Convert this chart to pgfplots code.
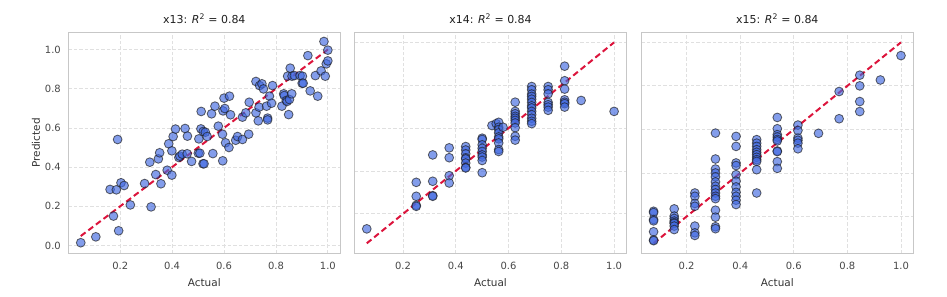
\documentclass[border=0pt]{standalone}
\usepackage{fontspec}
\setmainfont{DejaVu Sans}
\usepackage{pgfplots}
\pgfplotsset{compat=1.18}
\usepackage{pgfplotstable}
\definecolor{royal}{RGB}{65,105,225}
\definecolor{crim}{RGB}{220,20,60}

\pgfplotstableread{
x y
0.048 0.014
0.106 0.044
0.190 0.541
0.174 0.150
0.194 0.075
0.161 0.286
0.185 0.284
0.203 0.320
0.215 0.306
0.239 0.207
0.294 0.316
0.319 0.197
0.314 0.425
0.337 0.362
0.347 0.442
0.352 0.473
0.357 0.315
0.381 0.384
0.399 0.359
0.387 0.519
0.399 0.483
0.404 0.556
0.413 0.594
0.426 0.449
0.430 0.456
0.439 0.466
0.450 0.597
0.459 0.558
0.458 0.468
0.475 0.429
0.501 0.471
0.507 0.471
0.503 0.544
0.511 0.595
0.512 0.684
0.519 0.417
0.523 0.417
0.520 0.582
0.528 0.578
0.535 0.556
0.552 0.672
0.557 0.469
0.565 0.711
0.578 0.609
0.594 0.568
0.595 0.432
0.596 0.687
0.600 0.752
0.603 0.699
0.606 0.524
0.619 0.500
0.621 0.762
0.625 0.667
0.645 0.537
0.652 0.556
0.671 0.541
0.671 0.655
0.684 0.677
0.695 0.568
0.697 0.731
0.723 0.837
0.723 0.677
0.732 0.636
0.735 0.706
0.737 0.816
0.746 0.825
0.752 0.799
0.764 0.711
0.768 0.650
0.768 0.641
0.775 0.762
0.783 0.726
0.787 0.816
0.823 0.711
0.830 0.774
0.832 0.765
0.840 0.740
0.843 0.735
0.849 0.668
0.852 0.745
0.855 0.905
0.861 0.774
0.845 0.864
0.862 0.864
0.871 0.867
0.893 0.867
0.902 0.864
0.901 0.828
0.905 0.828
0.923 0.969
0.932 0.789
0.952 0.867
0.961 0.762
0.974 0.891
0.985 1.041
0.990 0.864
0.994 0.927
1.000 0.942
1.000 0.997
}\dataA

\pgfplotstableread{
x y
0.0625 0.130
0.25 0.347
0.25 0.282
0.25 0.240
0.25 0.235
0.3125 0.475
0.3125 0.352
0.3125 0.285
0.3125 0.282
0.375 0.508
0.375 0.462
0.375 0.378
0.375 0.344
0.4375 0.514
0.4375 0.498
0.4375 0.480
0.4375 0.461
0.4375 0.456
0.4375 0.437
0.4375 0.417
0.4375 0.414
0.5 0.553
0.5 0.547
0.5 0.522
0.5 0.506
0.5 0.491
0.5 0.475
0.5 0.465
0.5 0.449
0.5 0.392
0.537 0.612
0.553 0.621
0.5625 0.627
0.5625 0.604
0.5625 0.593
0.5625 0.578
0.5625 0.559
0.5625 0.550
0.5625 0.531
0.5625 0.500
0.5625 0.491
0.579 0.604
0.625 0.721
0.625 0.678
0.625 0.667
0.625 0.655
0.625 0.646
0.625 0.636
0.625 0.624
0.625 0.602
0.625 0.562
0.625 0.544
0.6875 0.794
0.6875 0.779
0.6875 0.759
0.6875 0.748
0.6875 0.735
0.6875 0.720
0.6875 0.704
0.6875 0.694
0.6875 0.678
0.6875 0.663
0.6875 0.646
0.6875 0.632
0.6875 0.621
0.75 0.794
0.75 0.779
0.75 0.760
0.75 0.720
0.75 0.709
0.75 0.698
0.75 0.683
0.8125 0.889
0.8125 0.821
0.8125 0.782
0.8125 0.732
0.8125 0.721
0.8125 0.714
0.8125 0.698
0.875 0.729
1.0 0.678
}\dataB

\pgfplotstableread{
x y
0.0769 0.224
0.0769 0.218
0.0769 0.186
0.0769 0.180
0.0769 0.130
0.0769 0.092
0.0769 0.089
0.1538 0.235
0.1538 0.202
0.1538 0.191
0.1538 0.179
0.1538 0.172
0.1538 0.168
0.1538 0.156
0.1538 0.140
0.2308 0.308
0.2308 0.293
0.2308 0.260
0.2308 0.247
0.2308 0.156
0.2308 0.125
0.2308 0.113
0.3077 0.583
0.3077 0.464
0.3077 0.418
0.3077 0.400
0.3077 0.382
0.3077 0.359
0.3077 0.339
0.3077 0.324
0.3077 0.308
0.3077 0.293
0.3077 0.282
0.3077 0.229
0.3077 0.197
0.3077 0.153
0.3077 0.144
0.3846 0.568
0.3846 0.522
0.3846 0.446
0.3846 0.434
0.3846 0.392
0.3846 0.362
0.3846 0.336
0.3846 0.311
0.3846 0.293
0.3846 0.275
0.3846 0.255
0.4615 0.553
0.4615 0.537
0.4615 0.522
0.4615 0.507
0.4615 0.495
0.4615 0.484
0.4615 0.472
0.4615 0.461
0.4615 0.453
0.4615 0.415
0.4615 0.308
0.5385 0.655
0.5385 0.603
0.5385 0.576
0.5385 0.565
0.5385 0.554
0.5385 0.547
0.5385 0.501
0.5385 0.498
0.5385 0.452
0.5385 0.421
0.6154 0.620
0.6154 0.595
0.6154 0.560
0.6154 0.550
0.6154 0.537
0.6154 0.511
0.6923 0.582
0.7692 0.774
0.7692 0.649
0.8462 0.849
0.8462 0.800
0.8462 0.728
0.8462 0.682
0.9231 0.827
1.0 0.939
}\dataC

\pgfplotsset{
  myax/.style={
    scale only axis, width=272bp, height=221bp,
    anchor=south west,
    axis line style={draw=black!22, line width=1bp},
    grid=major,
    major grid style={dash pattern=on 3.5bp off 2bp, draw=black!12, line width=0.8bp},
    major tick length=0pt, tick style={draw=none},
    xtick={0.2,0.4,0.6,0.8,1.0}, ytick={0,0.2,0.4,0.6,0.8,1.0},
    ticklabel style={font=\fontsize{10}{12}\selectfont, text=black!72},
    xticklabel style={yshift=-5bp},
    yticklabel style={xshift=-4bp},
    /pgf/number format/assume math mode=true,
    /pgf/number format/fixed, /pgf/number format/fixed zerofill,
    /pgf/number format/precision=1,
    title style={font=\fontsize{11}{13}\selectfont, text=black!88, yshift=-1bp},
    label style={font=\fontsize{10.5}{12}\selectfont, text=black!80},
    xlabel={Actual},
    xlabel style={yshift=-2bp},
  },
  pts/.style={only marks, mark=*, mark size=4.4bp,
    mark options={fill=royal, draw=black!90, fill opacity=0.65, draw opacity=0.65, line width=0.85bp}},
  diag/.style={crim, dash pattern=on 6bp off 3.5bp, line width=2bp},
}

\begin{document}
\begin{tikzpicture}
\path[use as bounding box] (0,0) rectangle (947bp,297bp);

\begin{axis}[myax, at={(68.3bp,43.7bp)},
  xmin=0.0, xmax=1.048, ymin=-0.04, ymax=1.088,
  title={x13: {\itshape R}\textsuperscript{2} = 0.84},
  ylabel={Predicted}, ylabel style={yshift=-2bp}]
\addplot[pts] table[x=x,y=y] {\dataA};
\addplot[diag] coordinates {(0.048,0.048) (1.0,1.0)};
\end{axis}

\begin{axis}[myax, at={(354.5bp,43.7bp)},
  xmin=0.016, xmax=1.047, ymin=0.016, ymax=1.047,
  yticklabels={},
  title={x14: {\itshape R}\textsuperscript{2} = 0.84}]
\addplot[pts] table[x=x,y=y] {\dataB};
\addplot[diag] coordinates {(0.0625,0.0625) (1.0,1.0)};
\end{axis}

\begin{axis}[myax, at={(641.3bp,43.7bp)},
  xmin=0.031, xmax=1.046, ymin=0.031, ymax=1.046,
  yticklabels={},
  title={x15: {\itshape R}\textsuperscript{2} = 0.84}]
\addplot[pts] table[x=x,y=y] {\dataC};
\addplot[diag] coordinates {(0.0769,0.0769) (1.0,1.0)};
\end{axis}
\end{tikzpicture}
\end{document}
